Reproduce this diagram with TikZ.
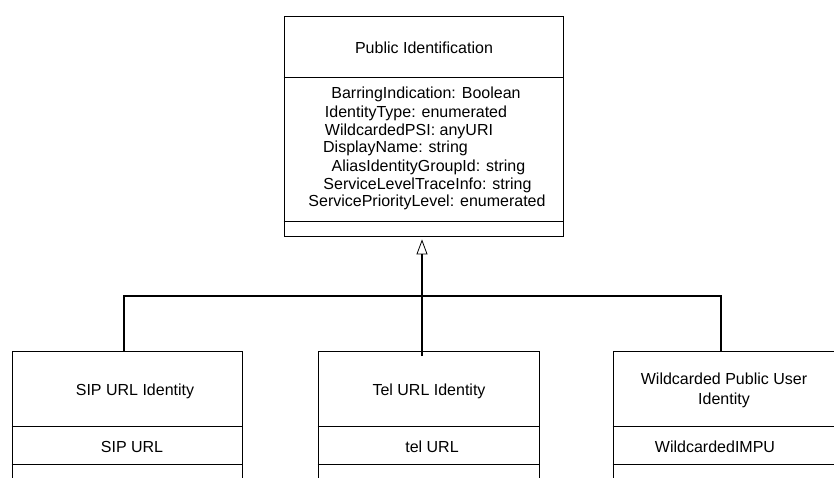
\documentclass[tikz,border=0pt]{standalone}
\usepackage{fontspec}
\setmainfont{Liberation Sans}
\usetikzlibrary{arrows.meta}
\newcommand\umlfont{\fontsize{16}{18}\selectfont}
\tikzset{
  box/.style={draw=black, line width=0.8pt, rectangle, inner sep=0pt},
  sepline/.style={draw=black, line width=0.8pt},
  lbl/.style={anchor=base, inner sep=0pt, font=\umlfont},
  bus/.style={draw=black, line width=1.8pt},
  gen/.style={-{Triangle[open, width=11pt, length=15pt, line width=0.8pt]}}
}
\begin{document}
\begin{tikzpicture}[x=1pt, y=-1pt]
\useasboundingbox (0,0) rectangle (834,478);
\fill[white] (0,0) rectangle (834,478);
\clip (0,0) rectangle (834,478);

% parent class
\node[box, minimum width=279pt, minimum height=220pt] (pub) at (423.5,126) {};
\draw[sepline] (pub.west |- 0,77) -- (pub.east |- 0,77);
\draw[sepline] (pub.west |- 0,221) -- (pub.east |- 0,221);
\node[lbl] (pubt) at (424,54) {Public Identification};
\node[lbl] (a1) at (426,98.5) {BarringIndication: Boolean};
\node[lbl] (a2) at (416,117.5) {IdentityType: enumerated};
\node[lbl] (a3) at (409,135.5) {WildcardedPSI: anyURI};
\node[lbl] (a4) at (395.5,152.5) {DisplayName: string};
\node[lbl] (a5) at (428.5,171.5) {AliasIdentityGroupId: string};
\node[lbl] (a6) at (427.5,189.5) {ServiceLevelTraceInfo: string};
\node[lbl] (a7) at (427,206.5) {ServicePriorityLevel: enumerated};

% child classes (cut off at the bottom)
\node[box, minimum width=230pt, minimum height=160pt] (sip) at (127,431) {};
\node[box, minimum width=221pt, minimum height=160pt] (tel) at (428.5,431) {};
\node[box, minimum width=224pt, minimum height=160pt] (wild) at (725,431) {};
\foreach \b in {sip,tel,wild}{
  \draw[sepline] (\b.west |- 0,426) -- (\b.east |- 0,426);
  \draw[sepline] (\b.west |- 0,464) -- (\b.east |- 0,464);
}
\node[lbl] (sipt) at (135,395.5) {SIP URL Identity};
\node[lbl] (sipa) at (132,452) {SIP URL};
\node[lbl] (telt) at (429,395.5) {Tel URL Identity};
\node[lbl] (tela) at (432,452) {tel URL};
\node[lbl] (wildt1) at (724,384) {Wildcarded Public User};
\node[lbl] (wildt2) at (724,404) {Identity};
\node[lbl] (wilda) at (715,452) {WildcardedIMPU};

% generalisation connectors
\coordinate (busL) at (124,296);
\coordinate (busR) at (721,296);
\coordinate (telIn) at (422,356);
\draw[bus] (sip.north -| busL) -- (busL) -- (busR) -- (wild.north -| busR);
\draw[bus, gen] (telIn) -- ([yshift=-3pt]pub.south -| telIn);
\end{tikzpicture}
\end{document}
